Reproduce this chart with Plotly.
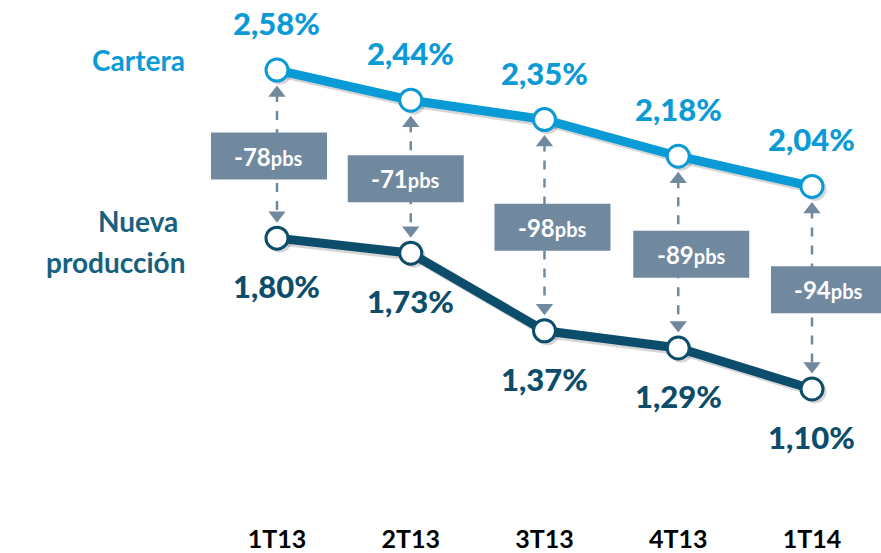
import plotly.graph_objects as go

# datos
trimestres = ["1T13", "2T13", "3T13", "4T13", "1T14"]
cartera = [2.58, 2.44, 2.35, 2.18, 2.04]
nueva = [1.80, 1.73, 1.37, 1.29, 1.10]
diferencial = [-78, -71, -98, -89, -94]

AZUL = "#0a9ad6"
OSCURO = "#0b4d6b"
GRIS = "#71899f"
FONT = "Lato"

W, H = 881, 553
MB = 50
plot_h = H - MB
Y_TOP = 2.905
Y_BOT = Y_TOP - plot_h / 215.5
X_LEFT = -2.071
X_RIGHT = 4.516
uy = (Y_TOP - Y_BOT) / plot_h   # unidades por pixel
ux = (X_RIGHT - X_LEFT) / W

x = list(range(len(trimestres)))

def pct(v):
    return ("%.2f" % v).replace(".", ",") + "%"

fig = go.Figure()

# sombras
for serie in (cartera, nueva):
    fig.add_trace(go.Scatter(x=[i + 3 * ux for i in x], y=[v - 3 * uy for v in serie],
                             mode="lines+markers", line=dict(color="rgba(0,0,0,0.16)", width=9),
                             marker=dict(size=23, color="rgba(0,0,0,0.16)"),
                             hoverinfo="skip", showlegend=False))

# flechas discontinuas
for i in x:
    top = cartera[i] - 23 * uy
    bot = nueva[i] + 23 * uy
    fig.add_trace(go.Scatter(x=[i, i], y=[top, bot], mode="lines",
                             line=dict(color=GRIS, width=2.5, dash="dash"),
                             hoverinfo="skip", showlegend=False))
    fig.add_trace(go.Scatter(x=[i, i], y=[top, bot], mode="markers",
                             marker=dict(symbol=["triangle-up", "triangle-down"], size=15, color=GRIS),
                             hoverinfo="skip", showlegend=False))

fig.add_trace(go.Scatter(x=x, y=cartera, mode="lines+markers", name="Cartera",
                         line=dict(color=AZUL, width=9),
                         marker=dict(size=22, color="white", line=dict(color=AZUL, width=3)),
                         showlegend=False))
fig.add_trace(go.Scatter(x=x, y=nueva, mode="lines+markers", name="Nueva producción",
                         line=dict(color=OSCURO, width=9),
                         marker=dict(size=22, color="white", line=dict(color=OSCURO, width=3)),
                         showlegend=False))

anns = []
for i in x:
    anns.append(dict(x=i, y=cartera[i], text=pct(cartera[i]), showarrow=False, yshift=47,
                     font=dict(family=FONT, size=31, color=AZUL, weight=900)))
    anns.append(dict(x=i, y=nueva[i], text=pct(nueva[i]), showarrow=False, yshift=-48,
                     font=dict(family=FONT, size=31, color=OSCURO, weight=900)))

# cajas
dx_px = [-8, -5, 8, 13, 17]
shapes = []
for i in x:
    cx = i + dx_px[i] * ux
    cy = (cartera[i] + nueva[i]) / 2 - 2 * uy
    shapes.append(dict(type="rect", xref="x", yref="y", layer="above",
                       x0=cx - 58 * ux, x1=cx + 58 * ux, y0=cy - 23.5 * uy, y1=cy + 23.5 * uy,
                       fillcolor=GRIS, line=dict(width=0)))
    anns.append(dict(x=cx, y=cy, showarrow=False,
                     text="%d<span style='font-size:20px'>pbs</span>" % diferencial[i],
                     font=dict(family=FONT, size=24, color="white", weight="bold")))

anns.append(dict(xref="paper", x=187 / W, xanchor="right", y=cartera[0], yshift=10,
                 text="Cartera", showarrow=False,
                 font=dict(family=FONT, size=28, color=AZUL, weight="bold")))
anns.append(dict(xref="paper", x=180 / W, xanchor="right", y=nueva[0], yshift=17,
                 text="Nueva", showarrow=False,
                 font=dict(family=FONT, size=28, color="#17607f", weight="bold")))
anns.append(dict(xref="paper", x=187 / W, xanchor="right", y=nueva[0], yshift=-24,
                 text="producción", showarrow=False,
                 font=dict(family=FONT, size=28, color="#17607f", weight="bold")))

fig.update_layout(
    width=W, height=H, plot_bgcolor="white", paper_bgcolor="white",
    margin=dict(l=0, r=0, t=0, b=MB),
    xaxis=dict(range=[X_LEFT, X_RIGHT], tickvals=x, ticktext=trimestres, showgrid=False,
               zeroline=False, showline=False, ticks="outside", ticklen=14, tickcolor="white",
               tickfont=dict(family=FONT, size=25, color="black", weight="bold")),
    yaxis=dict(range=[Y_BOT, Y_TOP], visible=False),
    shapes=shapes, annotations=anns,
)

fig.write_html("out.html", config={"displayModeBar": False},
               post_script="document.body.style.margin='0';")
